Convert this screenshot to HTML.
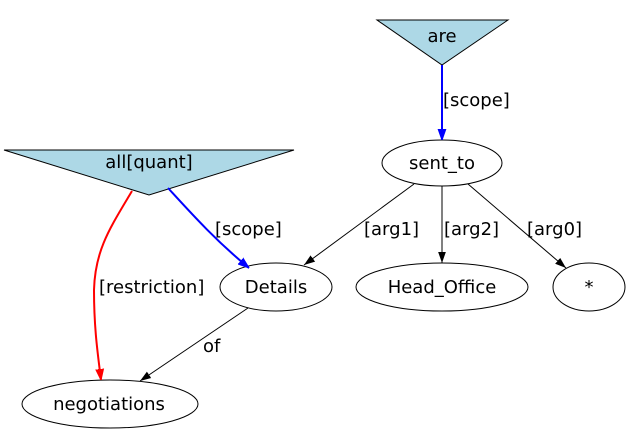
<!DOCTYPE html>
<html><head><meta charset="utf-8"><style>html,body{margin:0;padding:0;background:#fff}svg{display:block}text{font-family:"DejaVu Sans","Liberation Sans",sans-serif;font-size:18px}</style></head>
<body>
<svg width="631" height="433" viewBox="0 0 631 433" xmlns="http://www.w3.org/2000/svg">
<defs>
<marker id="ak" viewBox="0 0 10 10" refX="10" refY="5" markerWidth="11" markerHeight="11" markerUnits="userSpaceOnUse" orient="auto"><path d="M0,1.5 L10,5 L0,8.5z" fill="#000"/></marker>
<marker id="ab" viewBox="0 0 10 10" refX="10" refY="5" markerWidth="11" markerHeight="11" markerUnits="userSpaceOnUse" orient="auto"><path d="M0,1.5 L10,5 L0,8.5z" fill="blue" stroke="blue"/></marker>
<marker id="ar" viewBox="0 0 10 10" refX="10" refY="5" markerWidth="11" markerHeight="11" markerUnits="userSpaceOnUse" orient="auto"><path d="M0,1.5 L10,5 L0,8.5z" fill="red" stroke="red"/></marker>
</defs>
<polygon points="377,20 508,20 442,65" fill="#add8e6" stroke="#000"/>
<text x="442" y="42" text-anchor="middle">are</text>
<polygon points="4,150 294,150 149,195" fill="#add8e6" stroke="#000"/>
<text x="149" y="168" text-anchor="middle">all[quant]</text>
<ellipse cx="442" cy="163" rx="60" ry="23" fill="none" stroke="#000"/>
<text x="442" y="169" text-anchor="middle">sent_to</text>
<ellipse cx="276" cy="287" rx="56" ry="24" fill="none" stroke="#000"/>
<text x="276" y="293" text-anchor="middle">Details</text>
<ellipse cx="442" cy="287" rx="86" ry="24" fill="none" stroke="#000"/>
<text x="442" y="293" text-anchor="middle">Head_Office</text>
<ellipse cx="589" cy="287" rx="36" ry="24" fill="none" stroke="#000"/>
<text x="589" y="293" text-anchor="middle">*</text>
<ellipse cx="110" cy="404" rx="88" ry="24" fill="none" stroke="#000"/>
<text x="109" y="410" text-anchor="middle">negotiations</text>

<path d="M442,65 L442,140" stroke="blue" stroke-width="2" fill="none" marker-end="url(#ab)"/>
<text x="443" y="106">[scope]</text>
<path d="M414,184 L304,265" stroke="#000" fill="none" marker-end="url(#ak)"/>
<text x="364" y="235">[arg1]</text>
<path d="M442,186 L442,263" stroke="#000" fill="none" marker-end="url(#ak)"/>
<text x="444" y="235">[arg2]</text>
<path d="M468,184 L566,268" stroke="#000" fill="none" marker-end="url(#ak)"/>
<text x="527" y="235">[arg0]</text>
<path d="M168,188 C190,212 215,240 249,268" stroke="blue" stroke-width="2" fill="none" marker-end="url(#ab)"/>
<text x="215" y="235">[scope]</text>
<path d="M132,191 C110,228 95,250 94,290 C94,330 98,355 101,380" stroke="red" stroke-width="2" fill="none" marker-end="url(#ar)"/>
<text x="99" y="293">[restriction]</text>
<path d="M248,308 L140,381" stroke="#000" fill="none" marker-end="url(#ak)"/>
<text x="203" y="352">of</text>
</svg>
</body></html>
